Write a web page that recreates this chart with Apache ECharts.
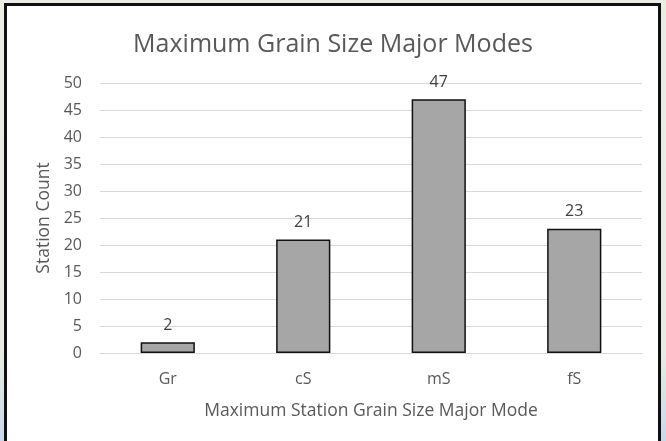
<!DOCTYPE html>
<html>
<head>
<meta charset="utf-8">
<script src="https://cdn.jsdelivr.net/npm/echarts@6/dist/echarts.min.js"></script>
<style>
  html, body { margin: 0; padding: 0; }
  body {
    width: 666px; height: 441px; overflow: hidden; position: relative;
    background: linear-gradient(to bottom, #eaede4 0%, #e7ebe1 80%, #c9d9ea 100%);
  }
  #box {
    position: absolute; left: 4px; top: 3px; width: 651px; height: 450px;
    background: #fff; border: 3px solid #111;
  }
  #chart { position: absolute; left: 0; top: 0; width: 666px; height: 441px; }
</style>
</head>
<body>
<div id="box"></div>
<div id="chart"></div>
<script>
var categories = ['Gr', 'cS', 'mS', 'fS']
var stationCounts = [2, 21, 47, 23]
var yTicks = { min: 0, max: 50, interval: 5 }

var font = '"Open Sans", "Noto Sans", sans-serif'
var chart = echarts.init(document.getElementById('chart'))

chart.setOption({
  backgroundColor: 'transparent',
  animation: false,
  textStyle: { fontFamily: font },
  title: {
    text: 'Maximum Grain Size Major Modes',
    left: 'center',
    top: 27,
    textStyle: { fontFamily: font, fontSize: 25, fontWeight: 'normal', color: '#595959' }
  },
  grid: {
    left: 100,
    right: 24,
    top: 83,
    bottom: 88
  },
  xAxis: {
    type: 'category',
    data: categories,
    name: 'Maximum Station Grain Size Major Mode',
    nameLocation: 'middle',
    nameGap: 49,
    nameTextStyle: { fontFamily: font, fontSize: 17.5, color: '#595959' },
    axisLine: { lineStyle: { color: '#d9d9d9', width: 1 } },
    axisTick: { show: false },
    axisLabel: { fontFamily: font, fontSize: 16, color: '#595959', margin: 18 }
  },
  yAxis: {
    type: 'value',
    min: yTicks.min,
    max: yTicks.max,
    interval: yTicks.interval,
    name: 'Station Count',
    nameLocation: 'middle',
    nameGap: 46,
    nameTextStyle: { fontFamily: font, fontSize: 17.5, color: '#595959' },
    axisLine: { show: false },
    axisTick: { show: false },
    axisLabel: { fontFamily: font, fontSize: 16, color: '#595959', margin: 18 },
    splitLine: { lineStyle: { color: '#d9d9d9', width: 1 } }
  },
  series: [
    {
      name: 'Station Count',
      type: 'bar',
      data: stationCounts,
      barWidth: '40%',
      itemStyle: { color: '#a6a6a6', borderColor: '#111', borderWidth: 1.5 },
      label: {
        show: true,
        position: 'top',
        distance: 9,
        fontFamily: font,
        fontSize: 16,
        color: '#404040'
      }
    }
  ]
})
</script>
</body>
</html>
